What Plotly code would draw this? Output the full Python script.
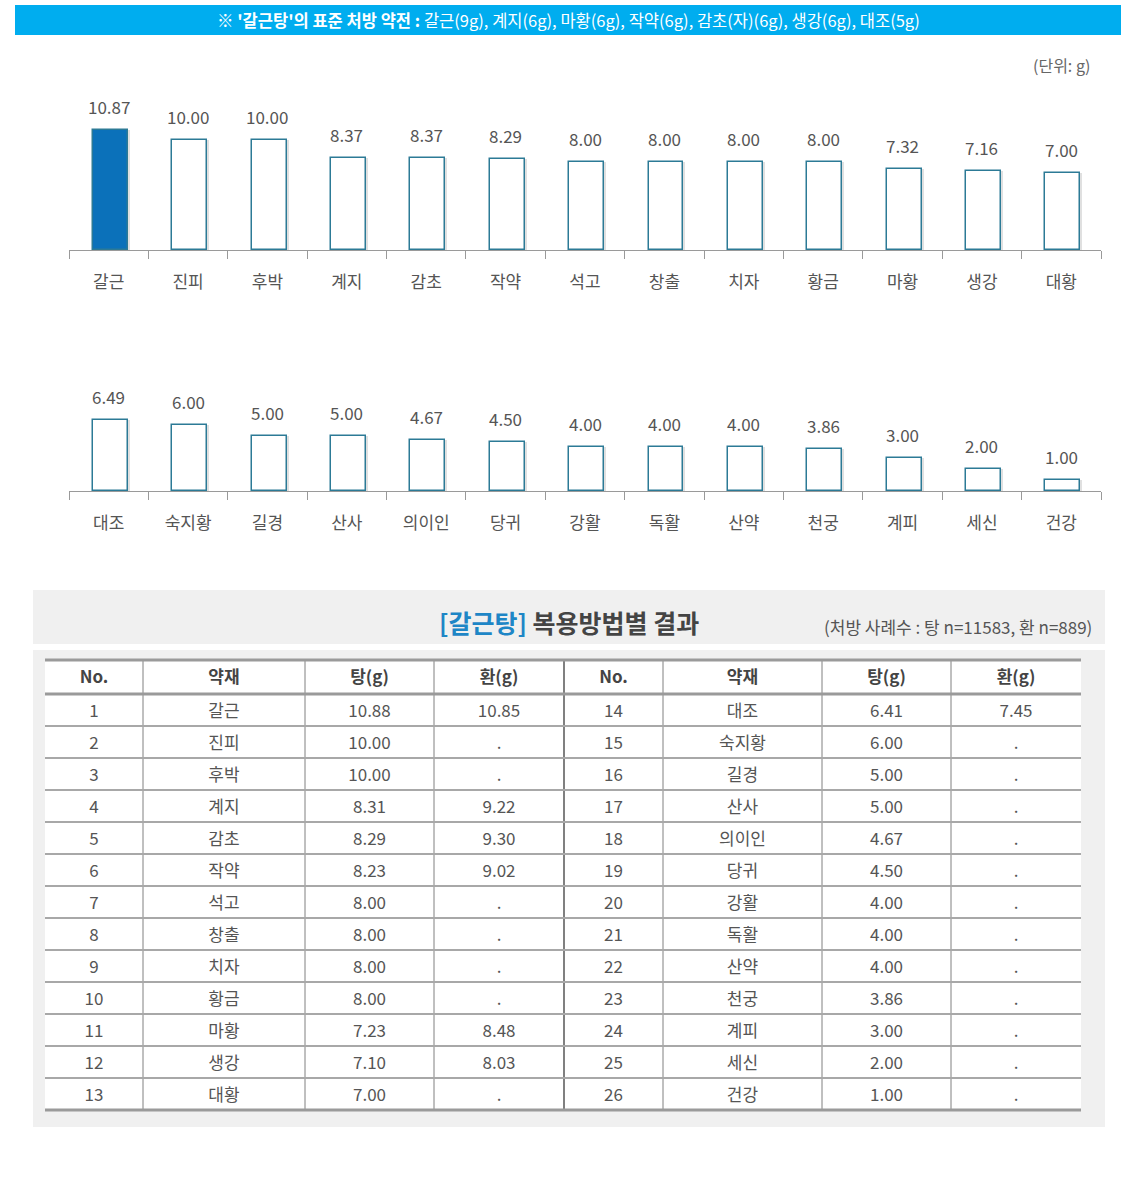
import plotly.graph_objects as go

W, H = 1139, 1177
FONT = "Noto Sans CJK KR"

top_herbs = ["갈근", "진피", "후박", "계지", "감초", "작약", "석고", "창출", "치자", "황금", "마황", "생강", "대황"]
top_values = [10.87, 10.00, 10.00, 8.37, 8.37, 8.29, 8.00, 8.00, 8.00, 8.00, 7.32, 7.16, 7.00]
bot_herbs = ["대조", "숙지황", "길경", "산사", "의이인", "당귀", "강활", "독활", "산약", "천궁", "계피", "세신", "건강"]
bot_values = [6.49, 6.00, 5.00, 5.00, 4.67, 4.50, 4.00, 4.00, 4.00, 3.86, 3.00, 2.00, 1.00]

no_left = list(range(1, 14))
no_right = list(range(14, 27))
tang_left = ["10.88", "10.00", "10.00", "8.31", "8.29", "8.23", "8.00", "8.00", "8.00", "8.00", "7.23", "7.10", "7.00"]
hwan_left = ["10.85", ".", ".", "9.22", "9.30", "9.02", ".", ".", ".", ".", "8.48", "8.03", "."]
tang_right = ["6.41", "6.00", "5.00", "5.00", "4.67", "4.50", "4.00", "4.00", "4.00", "3.86", "3.00", "2.00", "1.00"]
hwan_right = ["7.45", ".", ".", ".", ".", ".", ".", ".", ".", ".", ".", ".", "."]
table_headers = ["No.", "약재", "탕(g)", "환(g)", "No.", "약재", "탕(g)", "환(g)"]

banner_bold = "※ '갈근탕'의 표준 처방 약전 : "
banner_rest = "갈근(9g), 계지(6g), 마황(6g), 작약(6g), 감초(자)(6g), 생강(6g), 대조(5g)"


def px(x):
    return x / W


def py(y):
    return 1 - y / H


fig = go.Figure()

BAR_W = 0.44
OUTLINE = "#2C7A96"
for herbs, vals, xa, ya in [(top_herbs, top_values, "x", "y"), (bot_herbs, bot_values, "x2", "y2")]:
    fig.add_trace(go.Bar(x=herbs, y=vals, xaxis=xa, yaxis=ya, width=BAR_W, offset=-BAR_W / 2 + 0.045,
                         marker=dict(color="rgba(60,60,60,0.16)", line=dict(width=0)),
                         hoverinfo="skip", showlegend=False))
    colors = ["#0B71BA" if (i == 0 and xa == "x") else "white" for i in range(len(vals))]
    fig.add_trace(go.Bar(x=herbs, y=vals, xaxis=xa, yaxis=ya, width=BAR_W, offset=-BAR_W / 2 + 0.02,
                         marker=dict(color=colors, line=dict(color=OUTLINE, width=1.5)),
                         showlegend=False))
    for h, v in zip(herbs, vals):
        fig.add_annotation(x=h, y=v, xref=xa, yref=ya, text=f"{v:.2f}", showarrow=False,
                           xanchor="center", yanchor="bottom", yshift=9,
                           font=dict(size=17, color="#555", family=FONT))

axis_common = dict(showline=True, linecolor="#9a9a9a", linewidth=1, ticks="outside", tickson="boundaries",
                   ticklen=8, tickcolor="#9a9a9a", tickfont=dict(size=17, color="#555", family=FONT),
                   ticklabelstandoff=17, showgrid=False, zeroline=False, fixedrange=True)

fig.update_layout(
    width=W, height=H, margin=dict(l=0, r=0, t=0, b=0),
    paper_bgcolor="white", plot_bgcolor="rgba(0,0,0,0)",
    barmode="overlay", bargap=0,
    font=dict(family=FONT),
    xaxis=dict(domain=[px(69), px(1101)], anchor="y", **axis_common),
    yaxis=dict(domain=[py(250), py(118)], range=[0, 12], visible=False),
    xaxis2=dict(domain=[px(69), px(1101)], anchor="y2", **axis_common),
    yaxis2=dict(domain=[py(491), py(392)], range=[0, 9], visible=False),
)

# Table (text only; grid drawn with shapes)
col_w = [98, 162, 129, 130, 99, 159, 129, 130]
T_TOP, HDR_H, ROW_H, NROWS = 660, 34, 32, 13
T_LEFT, T_RIGHT = 45, 1081
T_BOT = T_TOP + HDR_H + ROW_H * NROWS
TEXT_SHIFT = 5
fig.add_trace(go.Table(
    domain=dict(x=[px(T_LEFT), px(T_RIGHT)], y=[py(T_BOT - TEXT_SHIFT), py(T_TOP - TEXT_SHIFT)]),
    columnwidth=col_w,
    header=dict(values=[f"<b>{h}</b>" for h in table_headers], height=HDR_H, fill_color="rgba(0,0,0,0)",
                line=dict(color="rgba(0,0,0,0)", width=0), align="center",
                font=dict(size=17, color="#444", family=FONT)),
    cells=dict(values=[no_left, top_herbs, tang_left, hwan_left, no_right, bot_herbs, tang_right, hwan_right],
               height=ROW_H, fill_color="rgba(0,0,0,0)", line=dict(color="rgba(0,0,0,0)", width=0),
               align="center", font=dict(size=17, color="#555", family=FONT)),
))

shapes = []
shapes.append(dict(type="rect", xref="paper", yref="paper", x0=px(15), x1=px(1121), y0=py(35), y1=py(5),
                   fillcolor="#00ADEF", line=dict(width=0), layer="below"))
shapes.append(dict(type="rect", xref="paper", yref="paper", x0=px(33), x1=px(1105), y0=py(644), y1=py(590),
                   fillcolor="#F0F0F0", line=dict(width=0), layer="below"))
shapes.append(dict(type="rect", xref="paper", yref="paper", x0=px(33), x1=px(1105), y0=py(1127), y1=py(650),
                   fillcolor="#F0F0F0", line=dict(width=0), layer="below"))
shapes.append(dict(type="rect", xref="paper", yref="paper", x0=px(T_LEFT), x1=px(T_RIGHT), y0=py(T_BOT),
                   y1=py(T_TOP), fillcolor="white", line=dict(width=0), layer="below"))
xs = [T_LEFT]
for w in col_w:
    xs.append(xs[-1] + w)
for i, xx in enumerate(xs[1:-1], start=1):
    shapes.append(dict(type="line", xref="paper", yref="paper", x0=px(xx), x1=px(xx), y0=py(T_BOT), y1=py(T_TOP),
                       line=dict(color="#808080", width=2 if i == 4 else 1), layer="above"))
for k in range(1, NROWS):
    yy = T_TOP + HDR_H + ROW_H * k
    shapes.append(dict(type="line", xref="paper", yref="paper", x0=px(T_LEFT), x1=px(T_RIGHT), y0=py(yy), y1=py(yy),
                       line=dict(color="#a8a8a8", width=2), layer="above"))
for yy in [T_TOP, T_TOP + HDR_H, T_BOT]:
    shapes.append(dict(type="line", xref="paper", yref="paper", x0=px(T_LEFT), x1=px(T_RIGHT), y0=py(yy), y1=py(yy),
                       line=dict(color="#9a9a9a", width=3), layer="above"))
fig.update_layout(shapes=shapes)

fig.add_annotation(xref="paper", yref="paper", x=px(568), y=py(20), xanchor="center", yanchor="middle",
                   showarrow=False, text=f"<b>{banner_bold}</b>{banner_rest}",
                   font=dict(size=16.5, color="white", family=FONT))
fig.add_annotation(xref="paper", yref="paper", x=px(1092), y=py(65), xanchor="right", yanchor="middle",
                   showarrow=False, text="(단위: g)", font=dict(size=16, color="#666", family=FONT))
fig.add_annotation(xref="paper", yref="paper", x=px(569), y=py(622), xanchor="center", yanchor="middle",
                   showarrow=False, text="<b><span style='color:#1E86C6'>[갈근탕]</span> 복용방법별 결과</b>",
                   font=dict(size=25, color="#444", family=FONT))
fig.add_annotation(xref="paper", yref="paper", x=px(1094), y=py(626), xanchor="right", yanchor="middle",
                   showarrow=False, text="(처방 사례수 : 탕 n=11583, 환 n=889)",
                   font=dict(size=17, color="#555", family=FONT))

fig.write_html("out.html", config={"displayModeBar": False},
               post_script="document.body.style.margin='0';")
